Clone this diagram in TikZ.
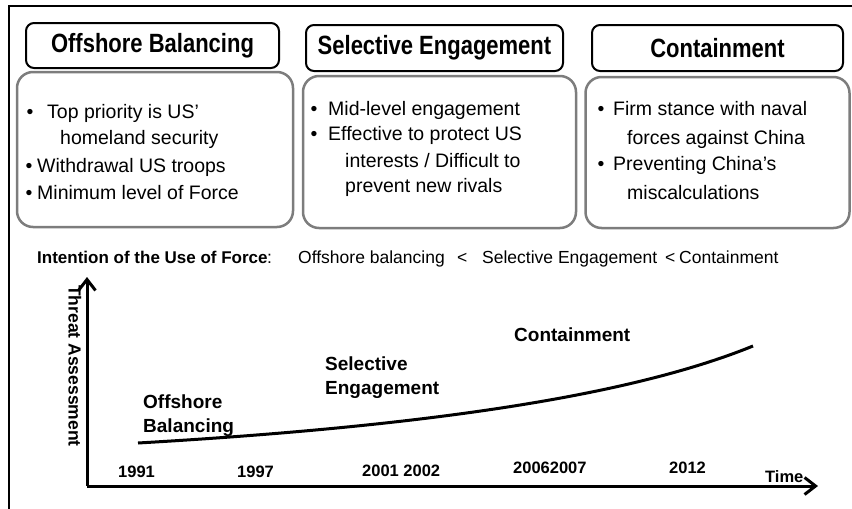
\documentclass[tikz,border=0pt]{standalone}
\usepackage{fontspec}
\usepackage{graphicx}
\setmainfont{Liberation Sans}
\usetikzlibrary{arrows.meta}
\definecolor{boxgray}{RGB}{125,125,125}
\newcommand{\tallt}[1]{\scalebox{1}[1.2]{#1}}
\begin{document}
\begin{tikzpicture}[x=1pt,y=-1pt,
  titlebox/.style={draw, line width=2pt, rounded corners=8pt, inner sep=0pt,
    font=\fontsize{22}{26}\selectfont\bfseries},
  contentbox/.style={draw=boxgray, line width=2.5pt, rounded corners=16pt, inner sep=0pt},
  txt/.style={anchor=base west, inner sep=0pt, font=\fontsize{19.5}{23}\selectfont},
  bul/.style={anchor=base, inner sep=0pt, font=\fontsize{19.5}{23}\selectfont},
  mid/.style={anchor=base west, inner sep=0pt, font=\fontsize{17.5}{21}\selectfont},
  midb/.style={anchor=base west, inner sep=0pt, font=\fontsize{17}{21}\selectfont\bfseries},
  lbl/.style={anchor=north west, inner sep=0pt, align=left, font=\fontsize{19}{24}\selectfont\bfseries},
  yr/.style={anchor=base west, inner sep=0pt, font=\fontsize{16.5}{20}\selectfont\bfseries},
  axis/.style={line width=3pt, -{Straight Barb[length=11pt,width=17pt]}},
  curve/.style={line width=3pt}
]
\useasboundingbox (0,0) rectangle (852,509);
% frame
\draw[line width=1.2pt] (9,509) -- (9,6) -- (852,6);

% title boxes
\node[titlebox, minimum width=253pt, minimum height=45pt] (tA) at (152.5,45.5) {\tallt{Offshore Balancing}};
\node[titlebox, minimum width=257pt, minimum height=46pt] (tB) at (434.5,48) {\tallt{Selective Engagement}};
\node[titlebox, minimum width=251pt, minimum height=46pt] (tC) at (717.5,48) {\tallt{Containment}};

% content boxes
\node[contentbox, minimum width=276pt, minimum height=155pt] (cA) at (155,149.5) {};
\node[contentbox, minimum width=273pt, minimum height=152pt] (cB) at (439.5,152) {};
\node[contentbox, minimum width=264pt, minimum height=151pt] (cC) at (717.5,152.5) {};

% box A text
\node[bul] (bA1) at (30,118) {•};
\node[txt] (a1) at (47,118) {Top priority is US'};
\node[txt] (a2) at (60,144) {homeland security};
\node[bul] (bA3) at (29,172) {•};
\node[txt] (a3) at (37,172) {Withdrawal US troops};
\node[bul] (bA4) at (29,199) {•};
\node[txt] (a4) at (37,199) {Minimum level of Force};

% box B text
\node[bul] (bB1) at (314,115) {•};
\node[txt] (b1) at (328,115) {Mid-level engagement};
\node[bul] (bB2) at (314,140) {•};
\node[txt] (b2) at (328,140) {Effective to protect US};
\node[txt] (b3) at (345,167) {interests / Difficult to};
\node[txt] (b4) at (345,192) {prevent new rivals};

% box C text
\node[bul] (bC1) at (601,115) {•};
\node[txt] (c1) at (613,115) {Firm stance with naval};
\node[txt] (c2) at (627,144) {forces against China};
\node[bul] (bC3) at (601,170) {•};
\node[txt] (c3) at (613,170) {Preventing China's};
\node[txt] (c4) at (627,199) {miscalculations};

% intention line
\node[midb] (int) at (37,263) {Intention of the Use of Force};
\node[mid] (colon) at (267,263) {:};
\node[mid] (i1) at (298,263) {Offshore balancing};
\node[mid] (lt1) at (457,263) {<};
\node[mid] (i2) at (482,263) {Selective Engagement};
\node[mid] (lt2) at (665,263) {<};
\node[mid] (i3) at (679,263) {Containment};

% axes
\coordinate (origin) at (87,486);
\coordinate (ytip) at (87,277);
\coordinate (xtip) at (818,486);
\draw[axis] (origin) -- (ytip);
\draw[axis] (origin) -- (xtip);
\node[rotate=-90, inner sep=0pt, font=\fontsize{17.5}{21}\selectfont\bfseries] (ta) at (75,366) {Threat Assessment};
\node[yr] (time) at (765,482) {Time};

% curve
\coordinate (cs) at (138,443);
\coordinate (ce) at (753,346);
\draw[curve] (cs) .. controls (450,425) and (640,392) .. (ce);

% curve labels
\node[lbl] (lOB) at (143,395) {Offshore\\Balancing};
\node[lbl] (lSE) at (325,357) {Selective\\Engagement};
\node[lbl] (lC) at (514,328) {Containment};

% years
\node[yr] (y1) at (118,477) {1991};
\node[yr] (y2) at (237,477) {1997};
\node[yr] (y3) at (362,476) {2001 2002};
\node[yr] (y4) at (513,473) {20062007};
\node[yr] (y5) at (669,473) {2012};
\end{tikzpicture}
\end{document}
